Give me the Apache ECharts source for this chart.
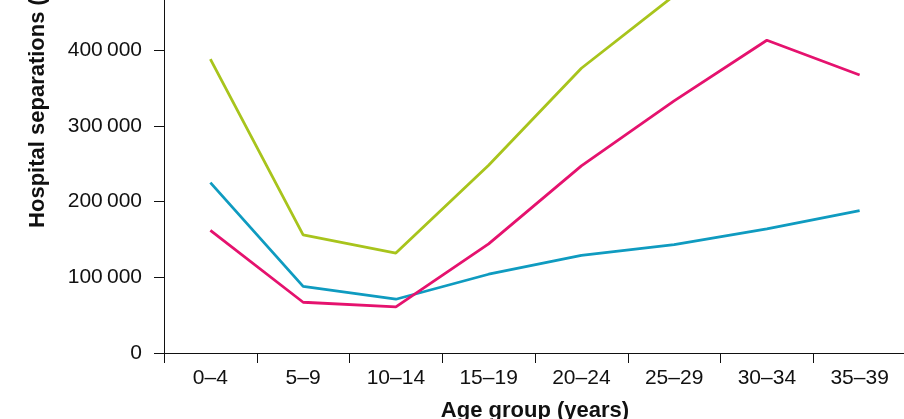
<!DOCTYPE html>
<html>
<head>
<meta charset="utf-8">
<script src="https://cdn.jsdelivr.net/npm/echarts@6/dist/echarts.min.js"></script>
<style>
  html, body { margin: 0; padding: 0; background: #fff; overflow: hidden; width: 904px; height: 419px; }
  #chart { position: absolute; left: 0; top: -225px; width: 910px; height: 644px; }
</style>
</head>
<body>
<div id="chart"></div>
<script>
var ageGroups = ['0–4', '5–9', '10–14', '15–19', '20–24', '25–29', '30–34', '35–39'];
var greenValues = [388000, 156000, 132000, 248000, 376000, 472000, 545000, 590000];
var blueValues = [225000, 88000, 71000, 104000, 129000, 143000, 164000, 188000];
var pinkValues = [162000, 67000, 61000, 144000, 247000, 333000, 413000, 367000];

var dom = document.getElementById('chart');
var myChart = echarts.init(dom);

function lineSeries(data, color) {
  return {
    type: 'line',
    data: data,
    symbol: 'none',
    lineStyle: { color: color, width: 2.8 },
    itemStyle: { color: color }
  };
}

// the page shows only the lower part of a taller chart, so the div sits above the top edge
var option = {
  animation: false,
  textStyle: { fontFamily: 'Liberation Sans' },
  grid: { left: 164, right: 4, top: 10, bottom: 66, outerBoundsMode: 'none' },
  xAxis: {
    type: 'category',
    data: ageGroups,
    boundaryGap: true,
    name: 'Age group (years)',
    nameLocation: 'middle',
    nameGap: 47,
    nameTextStyle: { fontSize: 22, fontWeight: 'bold', color: '#111' },
    axisLine: { show: true, lineStyle: { color: '#111', width: 1 } },
    axisTick: { show: true, inside: false, length: 10, lineStyle: { color: '#111', width: 1 } },
    axisLabel: { fontSize: 21, color: '#111', margin: 15 }
  },
  yAxis: {
    type: 'value',
    min: 0,
    max: 750000,
    interval: 100000,
    name: 'Hospital separations (number)',
    nameLocation: 'middle',
    nameGap: 115,
    nameTextStyle: { fontSize: 22, fontWeight: 'bold', color: '#111' },
    splitLine: { show: false },
    axisLine: { show: true, lineStyle: { color: '#111', width: 1 } },
    axisTick: { show: true, inside: false, length: 10, lineStyle: { color: '#111', width: 1 } },
    axisLabel: {
      fontSize: 21,
      color: '#111',
      margin: 22,
      formatter: function (v) {
        return String(v).replace(/\B(?=(\d{3})+(?!\d))/g, '\u2009');
      }
    }
  },
  series: [
    lineSeries(greenValues, '#a8c41c'),
    lineSeries(blueValues, '#0f9bc0'),
    lineSeries(pinkValues, '#e5126e')
  ]
};

if (option && typeof option === 'object') {
  myChart.setOption(option, true);
}
</script>
</body>
</html>
